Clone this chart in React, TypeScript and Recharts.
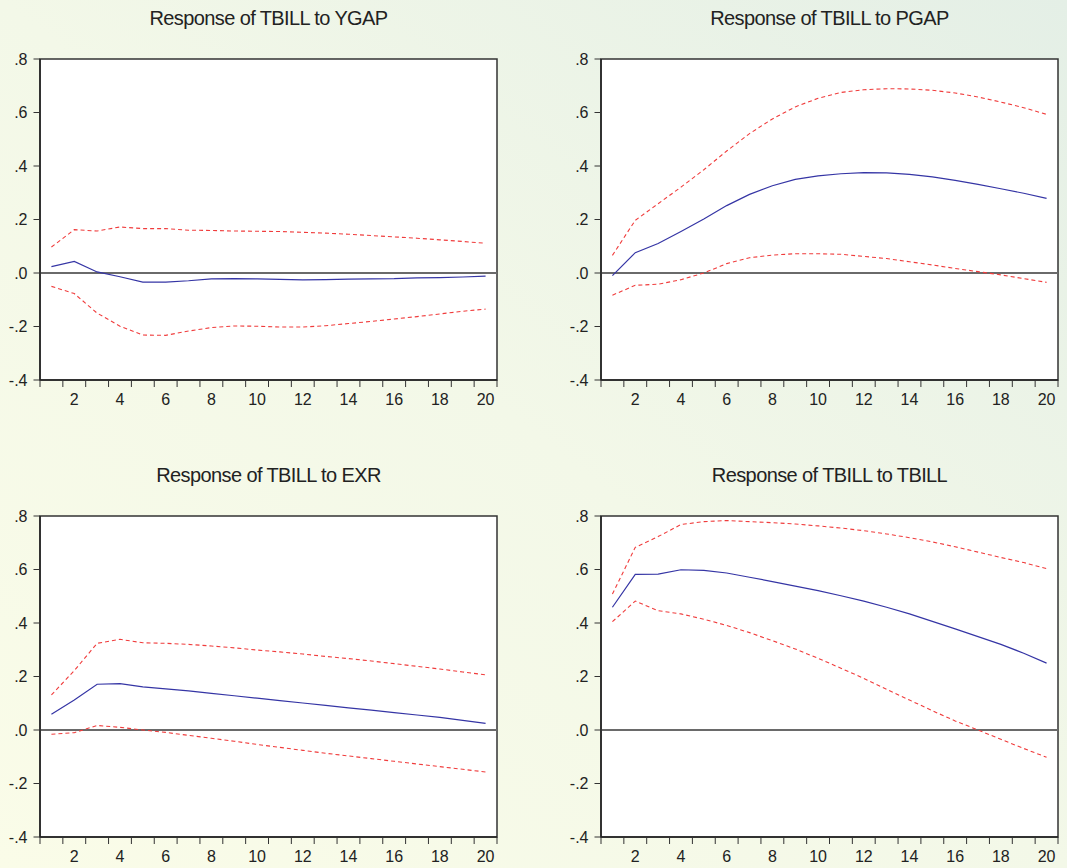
import React from "react";
import { LineChart, Line, XAxis, YAxis, ReferenceLine, ReferenceArea } from "recharts";

const periods = [1, 2, 3, 4, 5, 6, 7, 8, 9, 10, 11, 12, 13, 14, 15, 16, 17, 18, 19, 20];
const yTicks = [-0.4, -0.2, 0, 0.2, 0.4, 0.6, 0.8];
const xLabelTicks = [2, 4, 6, 8, 10, 12, 14, 16, 18, 20];
const xBoundaryTicks = [0.5, 1.5, 2.5, 3.5, 4.5, 5.5, 6.5, 7.5, 8.5, 9.5, 10.5, 11.5, 12.5, 13.5, 14.5, 15.5, 16.5, 17.5, 18.5, 19.5, 20.5];

const titles = [
  "Response of TBILL to YGAP",
  "Response of TBILL to PGAP",
  "Response of TBILL to EXR",
  "Response of TBILL to TBILL",
];

// Response of TBILL to YGAP
const ygapResp = [0.024, 0.043, 0.004, -0.014, -0.034, -0.034, -0.029, -0.022, -0.021, -0.022, -0.024, -0.026, -0.025, -0.023, -0.022, -0.021, -0.018, -0.017, -0.015, -0.012];
const ygapUpper = [0.097, 0.162, 0.157, 0.172, 0.166, 0.166, 0.16, 0.159, 0.157, 0.156, 0.155, 0.152, 0.149, 0.145, 0.14, 0.135, 0.13, 0.124, 0.118, 0.111];
const ygapLower = [-0.05, -0.077, -0.15, -0.199, -0.232, -0.233, -0.217, -0.204, -0.198, -0.199, -0.202, -0.202, -0.197, -0.189, -0.181, -0.172, -0.163, -0.153, -0.143, -0.135];

// Response of TBILL to PGAP
const pgapResp = [-0.01, 0.076, 0.11, 0.155, 0.202, 0.252, 0.294, 0.326, 0.35, 0.363, 0.371, 0.375, 0.374, 0.369, 0.359, 0.346, 0.331, 0.315, 0.298, 0.279];
const pgapUpper = [0.066, 0.197, 0.259, 0.321, 0.386, 0.456, 0.521, 0.576, 0.621, 0.653, 0.675, 0.685, 0.689, 0.688, 0.683, 0.673, 0.658, 0.639, 0.618, 0.593];
const pgapLower = [-0.083, -0.046, -0.042, -0.025, 0.0, 0.035, 0.057, 0.067, 0.072, 0.072, 0.07, 0.062, 0.054, 0.042, 0.03, 0.017, 0.005, -0.007, -0.021, -0.035];

// Response of TBILL to EXR
const exrResp = [0.059, 0.112, 0.171, 0.173, 0.161, 0.154, 0.146, 0.137, 0.128, 0.119, 0.11, 0.101, 0.092, 0.083, 0.074, 0.065, 0.056, 0.047, 0.036, 0.025];
const exrUpper = [0.131, 0.222, 0.324, 0.339, 0.326, 0.324, 0.32, 0.314, 0.307, 0.299, 0.292, 0.284, 0.275, 0.267, 0.258, 0.248, 0.238, 0.228, 0.217, 0.206];
const exrLower = [-0.016, -0.01, 0.017, 0.01, 0.0, -0.009, -0.02, -0.031, -0.042, -0.054, -0.065, -0.076, -0.087, -0.097, -0.107, -0.117, -0.127, -0.137, -0.147, -0.157];

// Response of TBILL to TBILL
const tbillResp = [0.459, 0.582, 0.583, 0.599, 0.597, 0.587, 0.571, 0.555, 0.538, 0.521, 0.502, 0.482, 0.459, 0.434, 0.406, 0.378, 0.349, 0.32, 0.287, 0.25];
const tbillUpper = [0.508, 0.683, 0.723, 0.768, 0.779, 0.783, 0.779, 0.775, 0.77, 0.763, 0.755, 0.745, 0.733, 0.719, 0.703, 0.685, 0.665, 0.645, 0.626, 0.603];
const tbillLower = [0.405, 0.482, 0.446, 0.434, 0.414, 0.391, 0.364, 0.334, 0.303, 0.268, 0.231, 0.193, 0.152, 0.112, 0.072, 0.034, 0.0, -0.035, -0.069, -0.102];

const build = (resp: number[], lower: number[], upper: number[]) =>
  periods.map((p, i) => ({ p, resp: resp[i], lower: lower[i], upper: upper[i] }));

const panels = [
  { title: titles[0], data: build(ygapResp, ygapLower, ygapUpper), left: 40, top: 59 },
  { title: titles[1], data: build(pgapResp, pgapLower, pgapUpper), left: 601, top: 59 },
  { title: titles[2], data: build(exrResp, exrLower, exrUpper), left: 40, top: 516 },
  { title: titles[3], data: build(tbillResp, tbillLower, tbillUpper), left: 601, top: 516 },
];

const fmtY = (v: number) => {
  if (Math.abs(v) < 1e-9) return ".0";
  const s = Math.abs(v).toFixed(1).replace(/^0/, "");
  return (v < 0 ? "-" : "") + s;
};

const FONT = '"Liberation Sans", Arial, "Helvetica", sans-serif';
const PLOT_W = 457;
const PLOT_H = 321;
const Y_AXIS_W = 40;
const M_TOP = 9;
const M_RIGHT = 13;
const X_AXIS_H = 30;

// Tick at each period boundary; the label of the following period is drawn
// at the middle of its band (band width derived from the axis width).
function BoundaryTick(props: any) {
  const { x, y, payload, width } = props;
  const nextPeriod = payload.value + 0.5;
  if (!xLabelTicks.includes(nextPeriod)) return <g />;
  const band = width / periods.length;
  return (
    <text
      x={x + band / 2}
      y={y}
      dy="0.71em"
      textAnchor="middle"
      fill="#222"
      fontSize={16}
      fontFamily={FONT}
    >
      {nextPeriod}
    </text>
  );
}

function Panel({ title, data, left, top }: { title: string; data: any[]; left: number; top: number }) {
  return (
    <>
      <div
        style={{
          position: "absolute",
          left,
          top: top - 51,
          width: PLOT_W,
          textAlign: "center",
          fontFamily: FONT,
          fontSize: 20,
          lineHeight: "20px",
          letterSpacing: "-0.6px",
          color: "#222",
          whiteSpace: "nowrap",
        }}
      >
        {title}
      </div>
      <div style={{ position: "absolute", left: left - Y_AXIS_W, top: top - M_TOP }}>
        <LineChart
          width={Y_AXIS_W + PLOT_W + M_RIGHT}
          height={M_TOP + PLOT_H + X_AXIS_H}
          data={data}
          margin={{ top: M_TOP, right: M_RIGHT, left: 0, bottom: 0 }}
          style={{ fontFamily: FONT }}
        >
          <XAxis
            dataKey="p"
            type="number"
            domain={[0.5, 20.5]}
            ticks={xBoundaryTicks}
            interval={0}
            tick={<BoundaryTick />}
            tickSize={7}
            tickMargin={6.5}
            height={X_AXIS_H}
            axisLine={{ stroke: "#222", strokeWidth: 1.5 }}
            tickLine={{ stroke: "#333", strokeWidth: 1 }}
            allowDataOverflow
          />
          <YAxis
            type="number"
            domain={[-0.4, 0.8]}
            ticks={yTicks}
            interval={0}
            width={Y_AXIS_W}
            tickSize={6.5}
            tickMargin={6}
            tickFormatter={fmtY}
            axisLine={{ stroke: "#222", strokeWidth: 1.5 }}
            tickLine={{ stroke: "#333", strokeWidth: 1 }}
            tick={{ fill: "#222", fontSize: 16, fontFamily: FONT }}
            allowDataOverflow
          />
          <ReferenceArea
            x1={0.5}
            x2={20.5}
            y1={-0.4}
            y2={0.8}
            fill="#ffffff"
            fillOpacity={1}
            stroke="#333"
            strokeWidth={1.5}
          />
          <ReferenceLine y={0} stroke="#6a6a6a" strokeWidth={1.8} />
          <Line
            type="linear"
            dataKey="upper"
            stroke="#f03c3c"
            strokeWidth={1.1}
            strokeDasharray="4 3"
            dot={false}
            isAnimationActive={false}
          />
          <Line
            type="linear"
            dataKey="lower"
            stroke="#f03c3c"
            strokeWidth={1.1}
            strokeDasharray="4 3"
            dot={false}
            isAnimationActive={false}
          />
          <Line
            type="linear"
            dataKey="resp"
            stroke="#3535a5"
            strokeWidth={1.2}
            dot={false}
            isAnimationActive={false}
          />
        </LineChart>
      </div>
    </>
  );
}

export default function App() {
  return (
    <div
      style={{
        position: "absolute",
        left: 0,
        top: 0,
        width: 1067,
        height: 868,
        overflow: "hidden",
        background: "linear-gradient(to top right, #fafce8 0%, #f3f8e8 50%, #e4efe6 100%)",
      }}
    >
      {panels.map((pn, i) => (
        <Panel key={i} title={pn.title} data={pn.data} left={pn.left} top={pn.top} />
      ))}
    </div>
  );
}
